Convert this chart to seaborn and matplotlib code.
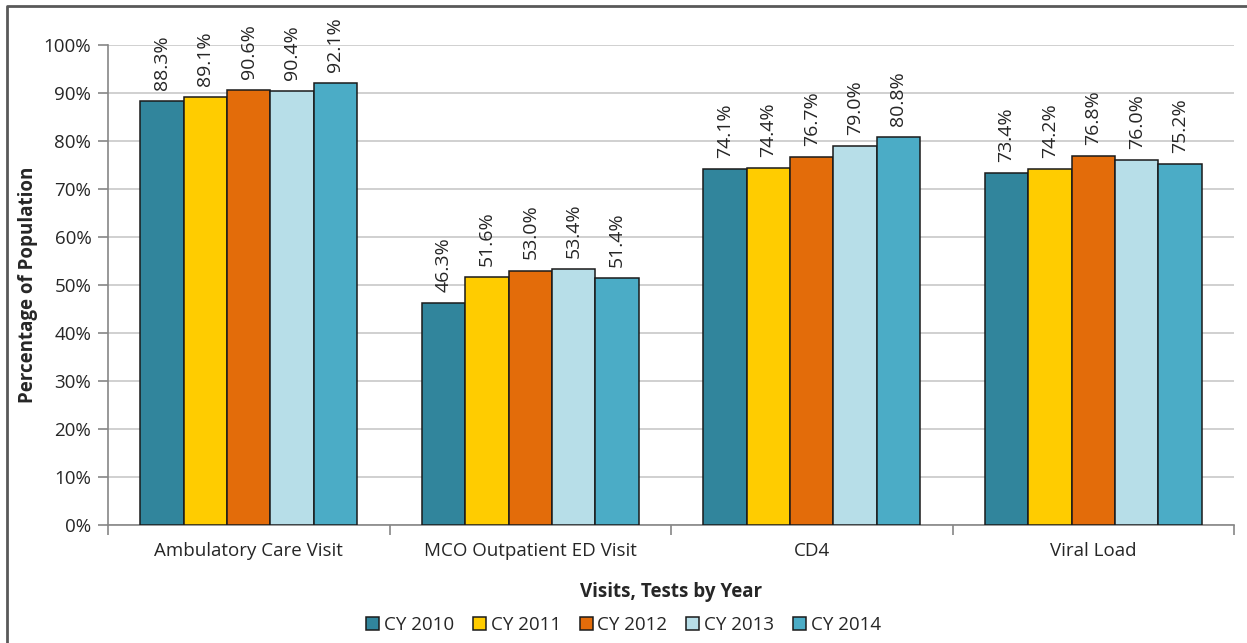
import pandas as pd
import matplotlib.pyplot as plt
import seaborn as sns
from matplotlib.lines import Line2D
from matplotlib.ticker import PercentFormatter

categories = ["Ambulatory Care Visit", "MCO Outpatient ED Visit", "CD4", "Viral Load"]
years = ["CY 2010", "CY 2011", "CY 2012", "CY 2013", "CY 2014"]
cy2010 = [88.3, 46.3, 74.1, 73.4]
cy2011 = [89.1, 51.6, 74.4, 74.2]
cy2012 = [90.6, 53.0, 76.7, 76.8]
cy2013 = [90.4, 53.4, 79.0, 76.0]
cy2014 = [92.1, 51.4, 80.8, 75.2]
colors = ["#31859C", "#FFCC00", "#E36C0A", "#B7DEE8", "#4BACC6"]

rows = []
for yr, vals in zip(years, [cy2010, cy2011, cy2012, cy2013, cy2014]):
    for cat, v in zip(categories, vals):
        rows.append({"measure": cat, "year": yr, "pct": v})
df = pd.DataFrame(rows)

sns.set_style("white")
plt.rcParams["font.family"] = ["Open Sans", "DejaVu Sans"]
fs = 13.5

fig = plt.figure(figsize=(12.47, 6.43), dpi=100)
ax = fig.add_axes([0.0866, 0.1835, 0.9030, 0.7465])

sns.barplot(data=df, x="measure", y="pct", hue="year", order=categories,
            hue_order=years, palette=colors, width=0.77, edgecolor="#1a1a1a",
            linewidth=1.1, saturation=1, legend=False, ax=ax, zorder=3)

for cont in ax.containers:
    ax.bar_label(cont, labels=[f"{v:.1f}%" for v in cont.datavalues],
                 rotation=90, padding=8, fontsize=14)

ax.set_ylim(0, 100)
ax.set_xlim(-0.5, 3.5)
ax.set_yticks(range(0, 101, 10))
ax.yaxis.set_major_formatter(PercentFormatter(decimals=0))
ax.grid(axis="y", color="#C8C8C8", linewidth=1.2, zorder=0)
ax.set_axisbelow(True)
for s in ["top", "right"]:
    ax.spines[s].set_visible(False)
for s in ["left", "bottom"]:
    ax.spines[s].set_color("#868686")
    ax.spines[s].set_linewidth(1.2)

ax.set_xticks([-0.5, 0.5, 1.5, 2.5, 3.5], minor=False)
ax.set_xticklabels([])
ax.set_xticks(range(4), minor=True)
ax.set_xticklabels(categories, minor=True, fontsize=fs)
ax.tick_params(axis="x", which="major", length=7, color="#868686", width=1.2, direction="out", bottom=True)
ax.tick_params(axis="x", which="minor", length=0, pad=12)
ax.tick_params(axis="y", length=7, color="#868686", width=1.2, direction="out", left=True, labelsize=fs, pad=5)

ax.set_xlabel("Visits, Tests by Year", fontsize=fs, fontweight="bold", labelpad=16)
ax.set_ylabel("Percentage of Population", fontsize=fs, fontweight="bold", labelpad=4)

handles = [plt.Rectangle((0, 0), 1, 1, facecolor=c, edgecolor="#1a1a1a", linewidth=1.1) for c in colors]
fig.legend(handles, years, loc="center", bbox_to_anchor=(0.5, 0.028), ncol=5, frameon=False,
           fontsize=fs, handlelength=0.7, handleheight=0.7, handletextpad=0.25, columnspacing=1.0)

fig.add_artist(Line2D([7 / 1247, 7 / 1247, 1], [0, 1 - 6 / 643, 1 - 6 / 643],
                      transform=fig.transFigure, color="#595959", linewidth=2))

fig.savefig("out.png", dpi=100)
